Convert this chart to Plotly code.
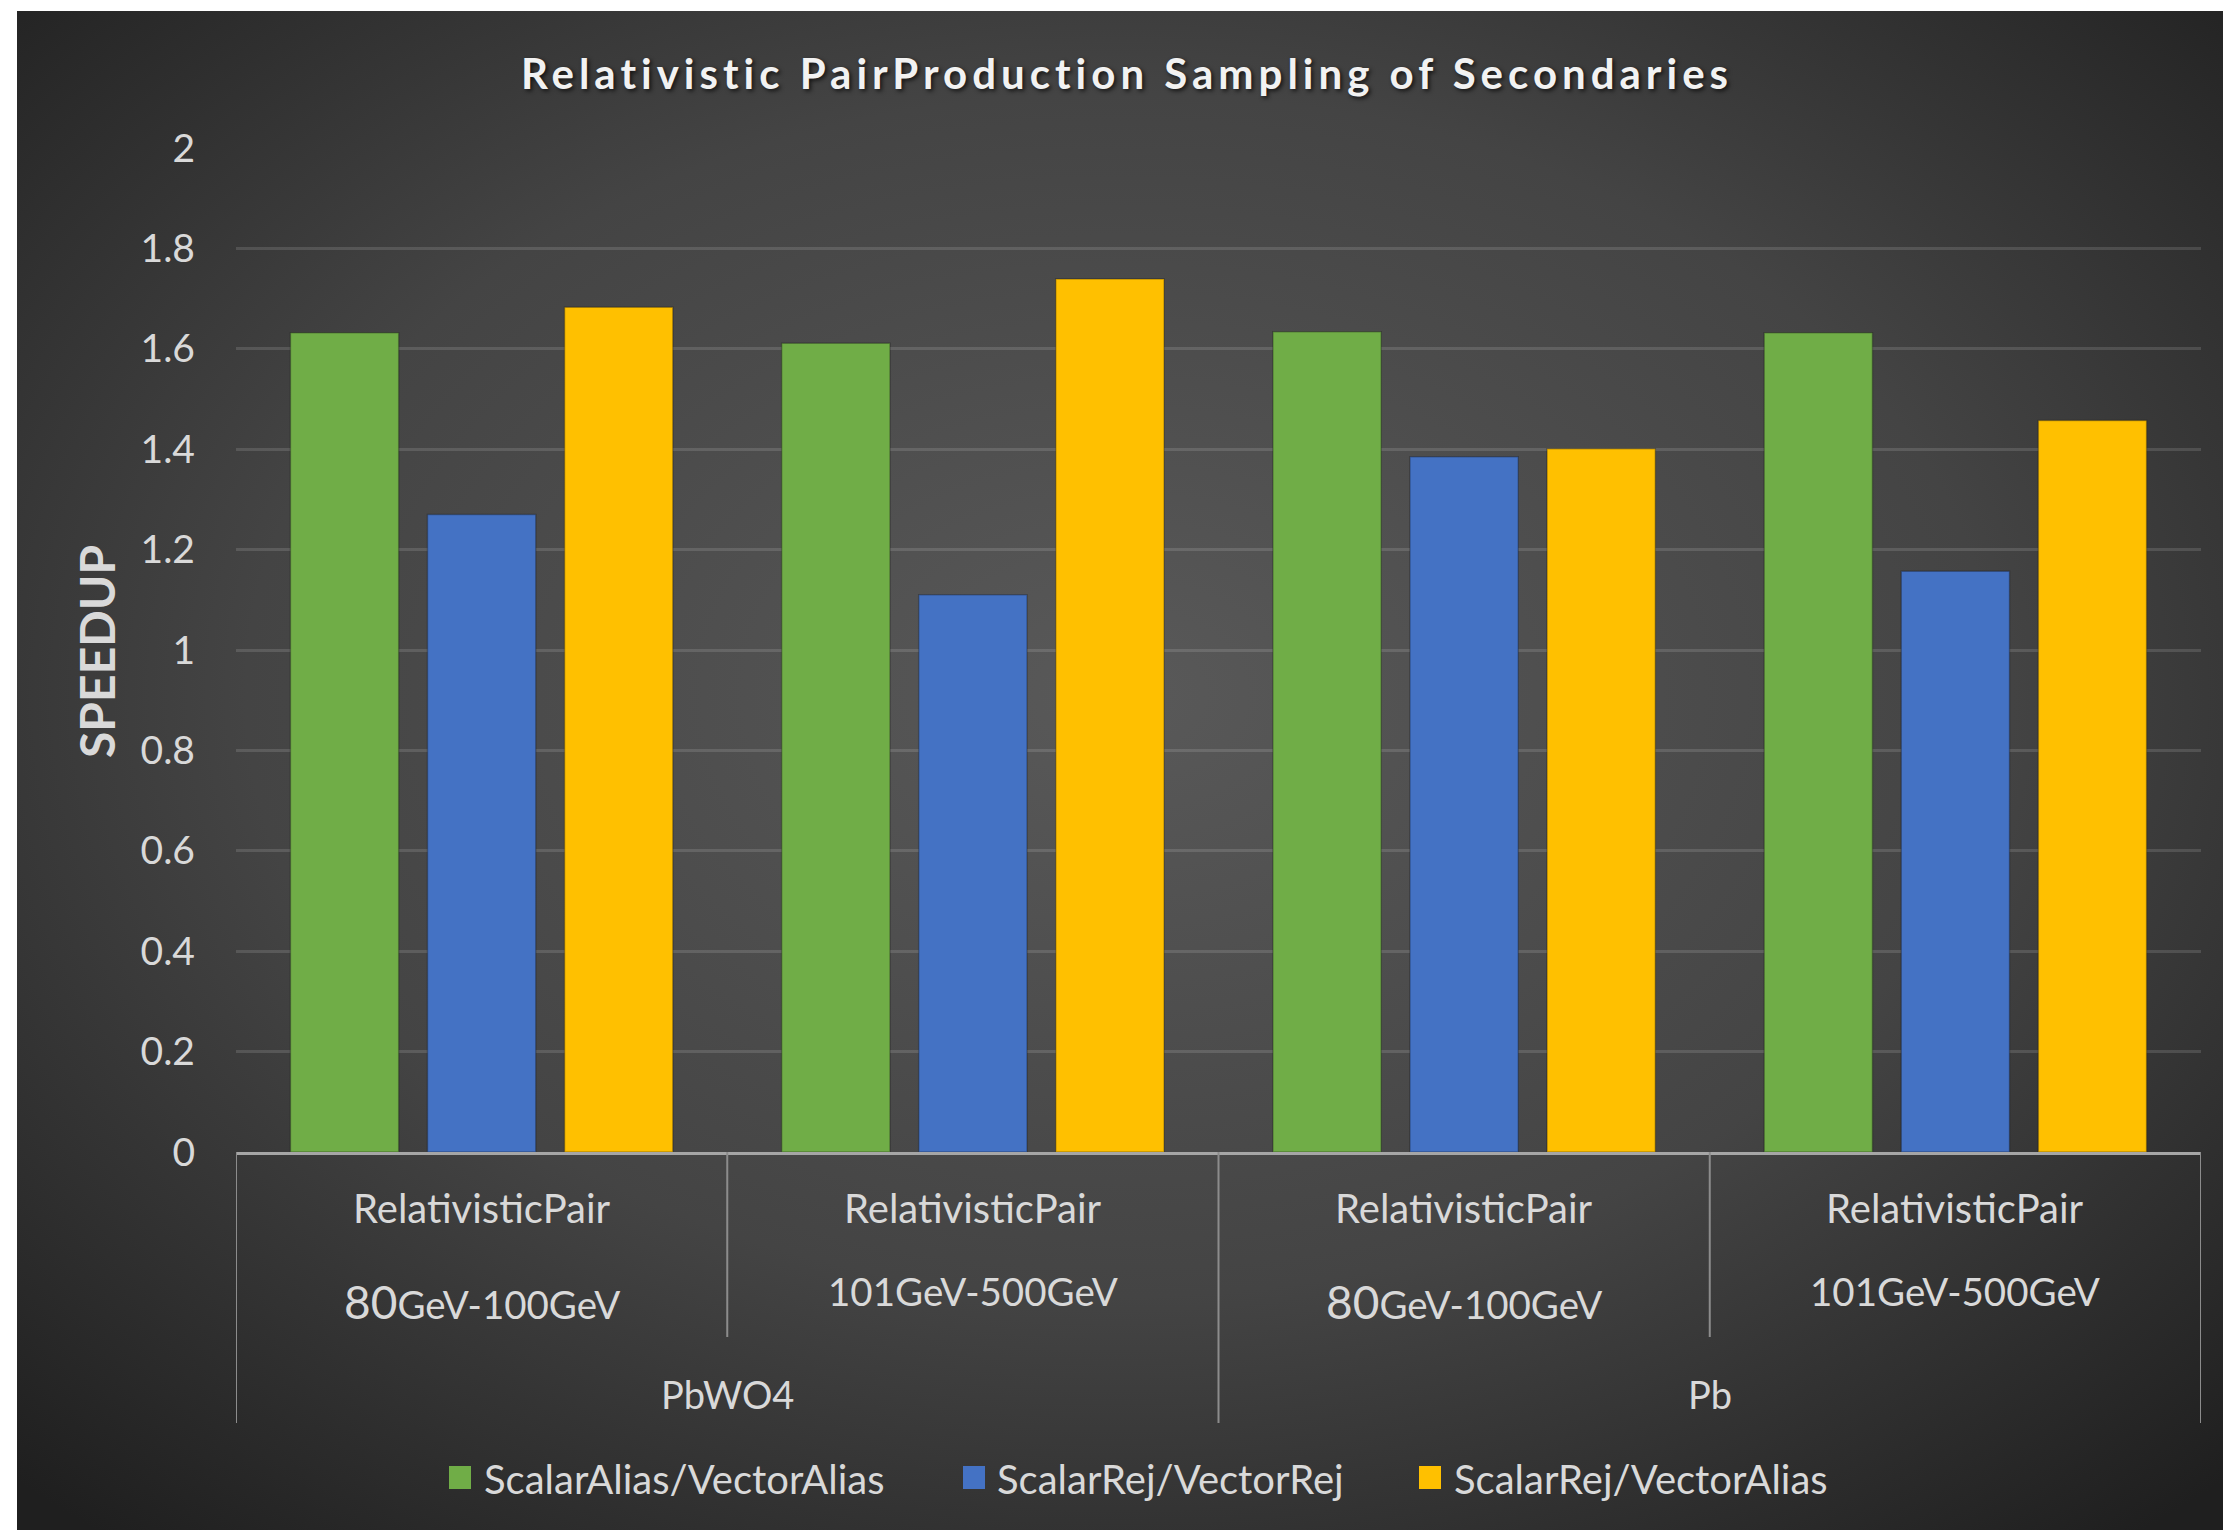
import base64
import plotly.graph_objects as go

# ---- data -------------------------------------------------------------
materials = ["PbWO4", "PbWO4", "Pb", "Pb"]
energy_ranges = ["80GeV-100GeV", "101GeV-500GeV", "80GeV-100GeV", "101GeV-500GeV"]
model_name = "RelativisticPair"

series_names = ["ScalarAlias/VectorAlias", "ScalarRej/VectorRej", "ScalarRej/VectorAlias"]
alias_vs_alias = [1.632, 1.611, 1.634, 1.632]
rej_vs_rej = [1.270, 1.110, 1.385, 1.157]
rej_vs_alias = [1.683, 1.739, 1.401, 1.457]

y_tick_values = [0, 0.2, 0.4, 0.6, 0.8, 1, 1.2, 1.4, 1.6, 1.8, 2]
y_tick_labels = ["0", "0.2", "0.4", "0.6", "0.8", "1", "1.2", "1.4", "1.6", "1.8", "2"]

title_text = "Relativistic PairProduction Sampling of Secondaries"
y_title = "SPEEDUP"

# ---- style ------------------------------------------------------------
series_colors = ["#70AD47", "#4472C4", "#FFC000"]
text_color = "#D9D9D9"
font_family = "Lato, 'Open Sans', sans-serif"

W, H = 2223, 1530
ML, MR, MT, MB = 236, 22, 148, 378
PW, PH = W - ML - MR, H - MT - MB


def px_x(p):
    return (p - ML) / PW


def px_y(p):
    return (H - MB - p) / PH


categories = [f"{m} | {e}" for m, e in zip(materials, energy_ranges)]
series_values = [alias_vs_alias, rej_vs_rej, rej_vs_alias]

fig = go.Figure()
for name, vals, col in zip(series_names, series_values, series_colors):
    fig.add_trace(go.Bar(
        x=categories, y=vals, name=name,
        marker=dict(color=col, line=dict(color="rgba(0,0,0,0.25)", width=1.5)),
        showlegend=False,
    ))

# dark radial backdrop for the whole chart area
svg = (
    "<svg xmlns='http://www.w3.org/2000/svg' width='2206' height='1519' "
    "viewBox='0 0 2206 1519' preserveAspectRatio='none'>"
    "<defs><radialGradient id='g' cx='50%' cy='45%' r='72%'>"
    "<stop offset='0' stop-color='#595959'/>"
    "<stop offset='0.55' stop-color='#444444'/>"
    "<stop offset='1' stop-color='#1f1f1f'/>"
    "</radialGradient></defs>"
    "<rect width='2206' height='1519' fill='url(#g)'/></svg>"
)
bg_src = "data:image/svg+xml;base64," + base64.b64encode(svg.encode()).decode()
fig.add_layout_image(dict(
    source=bg_src, xref="paper", yref="paper",
    x=px_x(17), y=px_y(11), sizex=(W - 17) / PW, sizey=(H - 11) / PH,
    xanchor="left", yanchor="top", sizing="stretch", layer="below",
))

annotations = []
shapes = []

# category labels under the axis
for i, (cat, rng) in enumerate(zip(categories, energy_ranges)):
    annotations.append(dict(
        x=cat, xref="x", y=px_y(1208), yref="paper", text=model_name,
        showarrow=False, font=dict(family=font_family, size=40, color=text_color),
        xanchor="center", yanchor="middle",
    ))
    if rng.startswith("80"):
        label = "<span style='font-size:46px'>80</span>" + rng[2:]
        yc = 1301
    else:
        label = rng
        yc = 1291
    annotations.append(dict(
        x=cat, xref="x", y=px_y(yc), yref="paper", text=label,
        showarrow=False, font=dict(family=font_family, size=38.5, color=text_color),
        xanchor="center", yanchor="middle",
    ))

# material group labels
groups = []
for i, m in enumerate(materials):
    if not groups or groups[-1][0] != m:
        groups.append([m, i, i])
    else:
        groups[-1][2] = i
for m, a, b in groups:
    annotations.append(dict(
        x=(a + b) / 2, xref="x", y=px_y(1394), yref="paper", text=m,
        showarrow=False, font=dict(family=font_family, size=38, color=text_color),
        xanchor="center", yanchor="middle",
    ))

# divider lines of the two-level axis
divider = dict(color="#8C8C8C", width=2)
outer_edges = sorted({a - 0.5 for _, a, _ in groups} | {b + 0.5 for _, _, b in groups})
for xe in outer_edges:
    shapes.append(dict(type="line", xref="x", yref="paper", x0=xe, x1=xe,
                       y0=0, y1=px_y(1423), line=divider))
for i in range(len(categories) - 1):
    xe = i + 0.5
    if xe not in outer_edges:
        shapes.append(dict(type="line", xref="x", yref="paper", x0=xe, x1=xe,
                           y0=0, y1=px_y(1337), line=divider))

# y axis title
annotations.append(dict(
    x=px_x(96), xref="paper", y=px_y(652), yref="paper", text=f"<b>{y_title}</b>",
    textangle=-90, showarrow=False,
    font=dict(family=font_family, size=48, color=text_color),
    xanchor="center", yanchor="middle",
))

# legend
legend_square_x = [449, 963, 1419]
legend_text_x = [482, 995, 1452]
for name, col, sx, tx in zip(series_names, series_colors, legend_square_x, legend_text_x):
    shapes.append(dict(type="rect", xref="paper", yref="paper",
                       x0=px_x(sx), x1=px_x(sx + 22), y0=px_y(1466), y1=px_y(1489),
                       fillcolor=col, line=dict(width=0)))
    annotations.append(dict(
        x=px_x(tx), xref="paper", y=px_y(1479), yref="paper", text=name,
        showarrow=False, font=dict(family=font_family, size=40, color=text_color),
        xanchor="left", yanchor="middle",
    ))

fig.update_layout(
    width=W, height=H,
    margin=dict(l=ML, r=MR, t=MT, b=MB, pad=0),
    paper_bgcolor="white", plot_bgcolor="rgba(0,0,0,0)",
    barmode="group", bargap=0.163, bargroupgap=0.21,
    title=dict(
        text=f"<b><span style='letter-spacing:5px'>{title_text}</span></b>",
        x=1127 / W, xref="container", xanchor="center",
        y=1 - 74 / H, yref="container", yanchor="middle",
        font=dict(family=font_family, size=42, color="#F2F2F2",
                  shadow="2px 2px 4px rgba(0,0,0,0.7)"),
    ),
    xaxis=dict(
        type="category", range=[-0.5, len(categories) - 0.5],
        showticklabels=False, showgrid=False, zeroline=False,
        showline=True, linecolor="#A6A6A6", linewidth=3, ticks="",
    ),
    yaxis=dict(
        range=[0, 2], tickvals=y_tick_values, ticktext=y_tick_labels,
        showgrid=True, gridcolor="rgba(255,255,255,0.13)", gridwidth=2.5,
        zeroline=False, showline=False, ticks="", ticklabelstandoff=40,
        tickfont=dict(family=font_family, size=39, color=text_color),
    ),
    annotations=annotations,
    shapes=shapes,
)

fig.write_html("out.html")
